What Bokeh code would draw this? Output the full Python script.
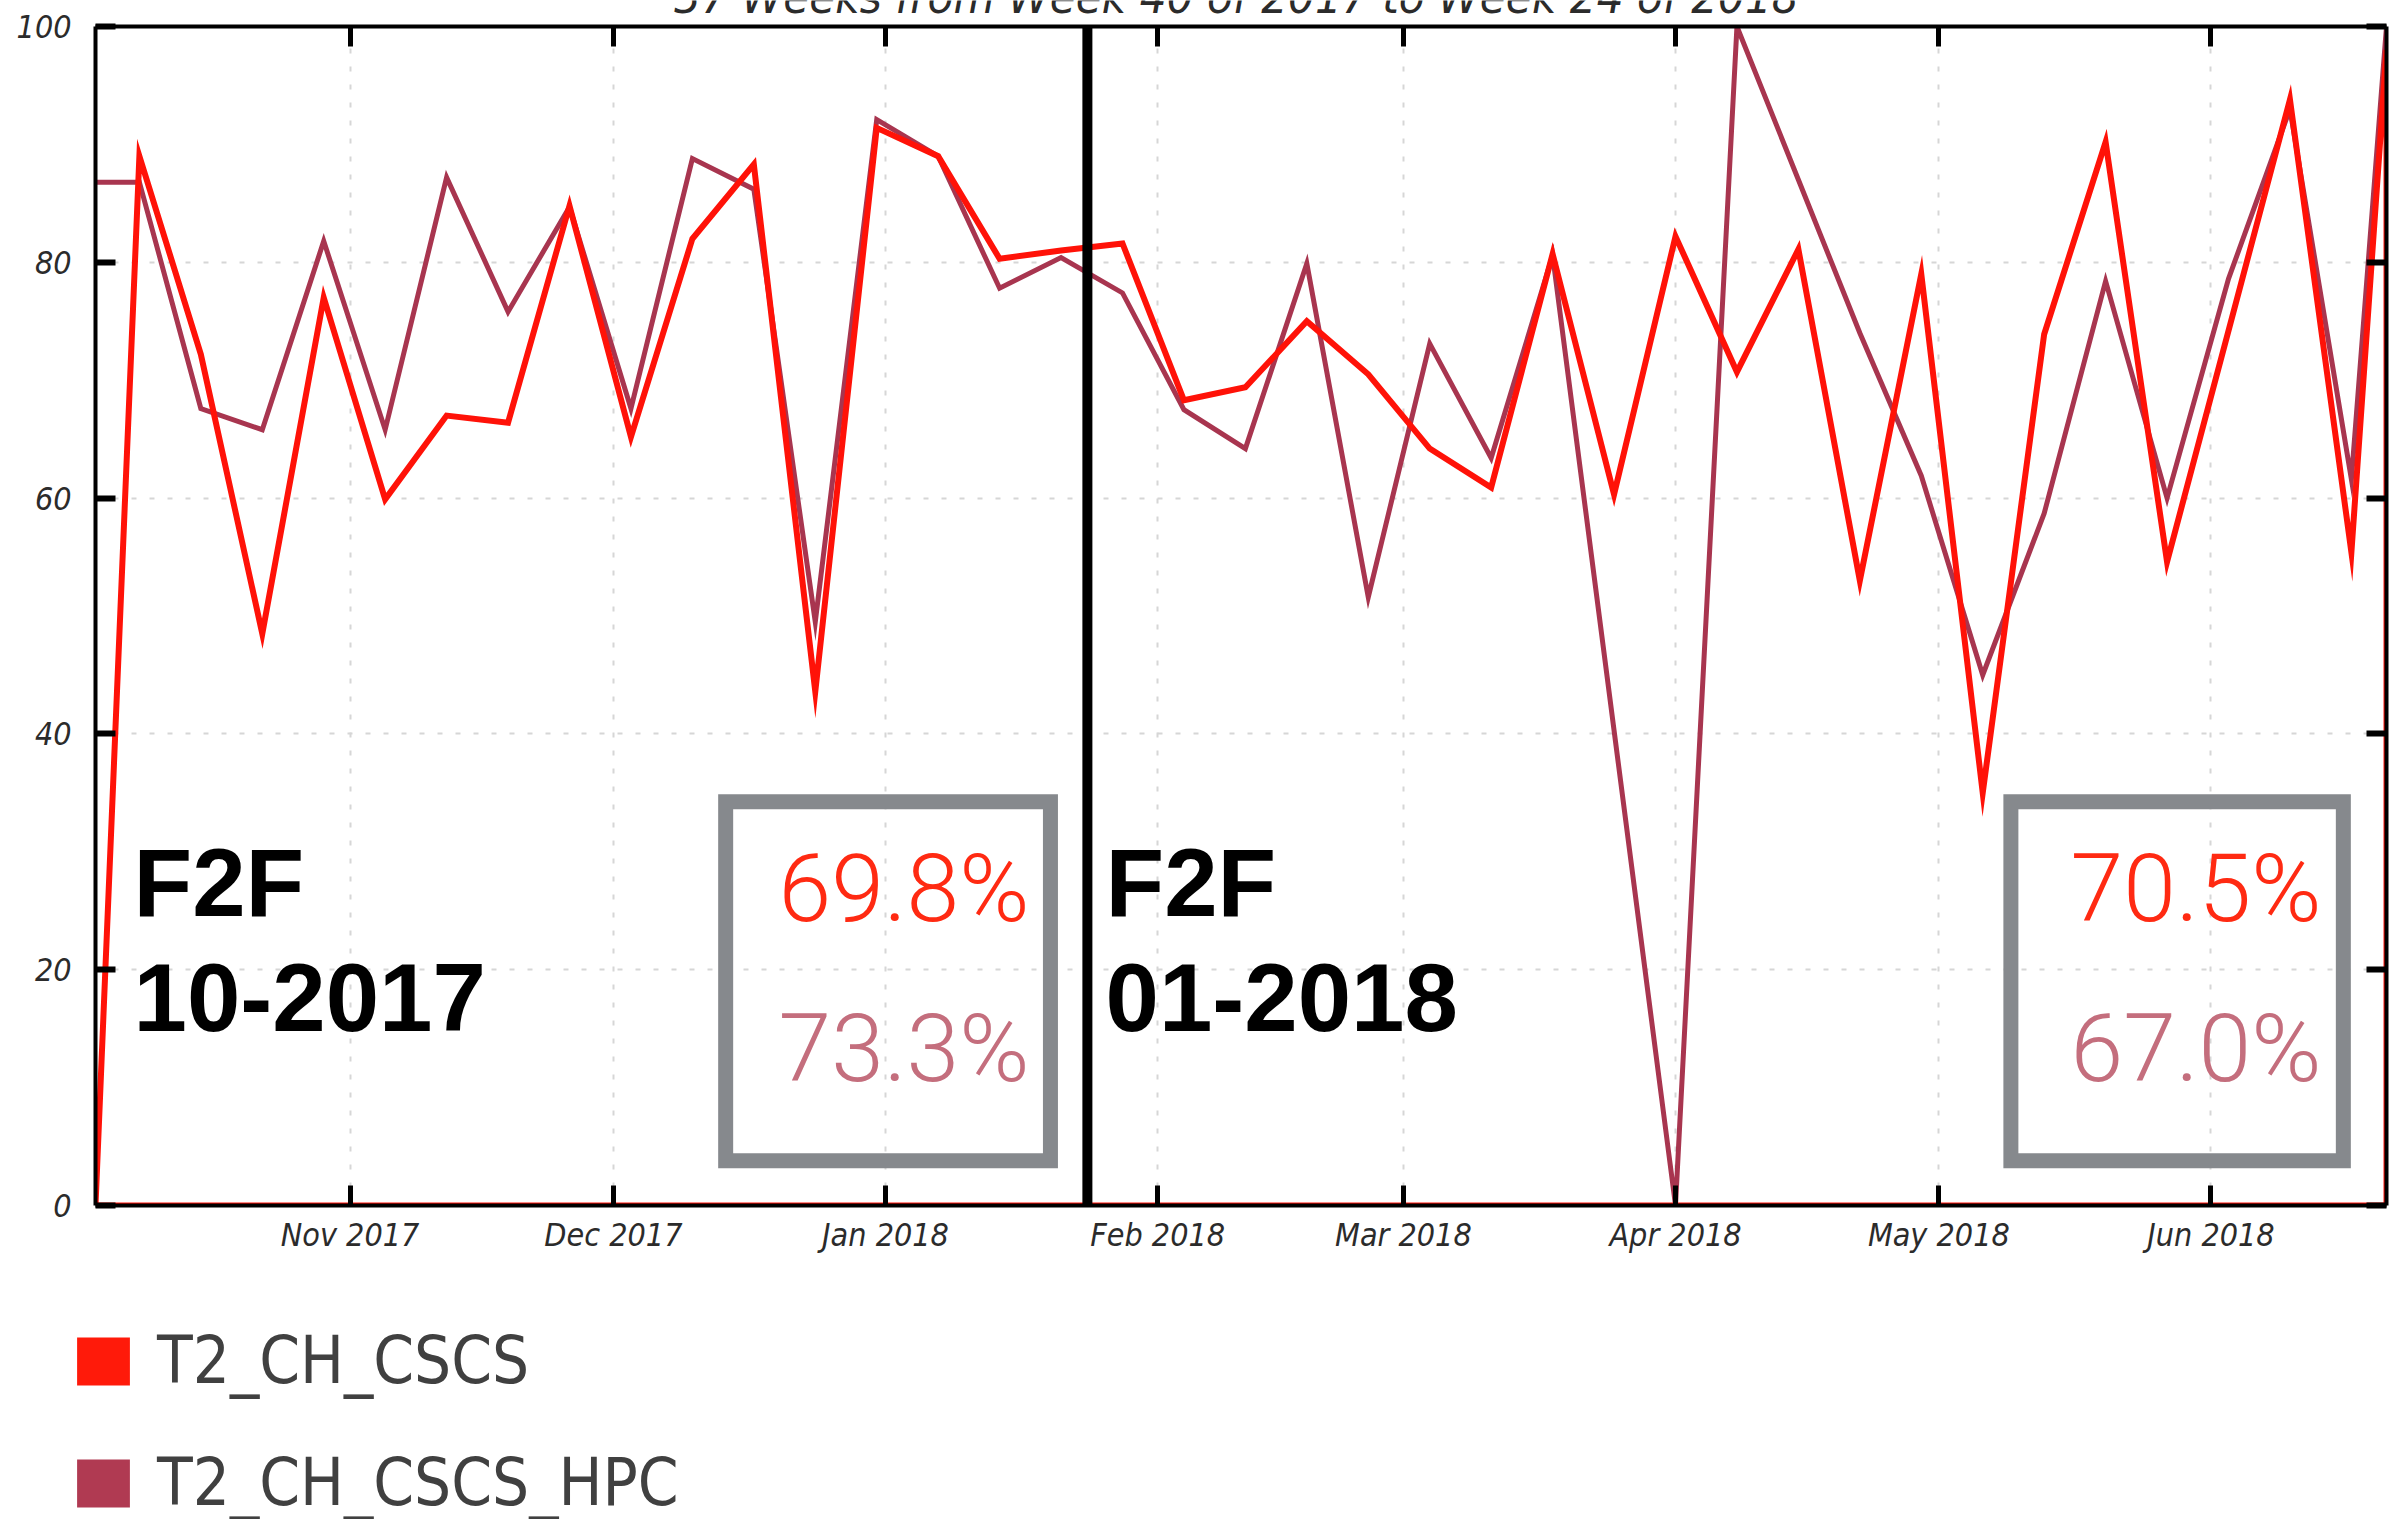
import pandas as pd
from bokeh.plotting import figure
from bokeh.layouts import column
from bokeh.models import (Range1d, LinearAxis, DatetimeAxis, FixedTicker, DatetimeTickFormatter,
                          CustomJSTickFormatter, Span, Label, BoxAnnotation, Legend, LegendItem)
from bokeh.embed import file_html
from bokeh.resources import INLINE

# ---------------- data ----------------
title_text = "37 Weeks from Week 40 of 2017 to Week 24 of 2018"
series_names = ["T2_CH_CSCS", "T2_CH_CSCS_HPC"]
weeks = list(pd.date_range("2017-10-08", periods=37, freq="7D"))
range_start = pd.Timestamp("2017-10-03")
range_end = pd.Timestamp("2018-06-21")

cscs = [89.0, 72.2, 48.5, 77.0, 59.9, 67.0, 66.4, 84.8, 65.2, 82.0, 88.3, 43.6, 91.4,
        89.0, 80.3, 81.0, 81.6, 68.3, 69.4, 75.0, 70.5, 64.2, 60.9, 80.7, 60.3, 82.2,
        70.7, 81.1, 53.0, 79.0, 35.0, 73.9, 90.2, 54.6, 74.2, 93.8, 55.4]
cscs_start, cscs_end = 0.0, 98.0
hpc = [86.8, 67.6, 65.8, 81.8, 65.8, 87.2, 75.8, 84.7, 67.6, 88.8, 86.2, 49.5, 92.1,
       89.0, 77.8, 80.4, 77.4, 67.5, 64.2, 79.9, 51.6, 73.1, 63.4, 80.6, 40.3, 0.0,
       100.0, 87.0, 74.0, 61.9, 45.0, 58.7, 78.4, 60.0, 78.6, 93.0, 61.6]
hpc_start, hpc_end = 86.8, 100.0

month_ticks = list(pd.date_range("2017-11-01", "2018-06-01", freq="MS"))
y_ticks = [0, 20, 40, 60, 80, 100]
f2f_date = pd.Timestamp("2018-01-24")
f2f_labels = [("F2F", "10-2017"), ("F2F", "01-2018")]
period_cscs = ["69.8%", "70.5%"]
period_hpc = ["73.3%", "67.0%"]

# ---------------- style ----------------
RED = "#ff1208"
HPC = "#a8354f"
RED_SW = "#ff1a0a"
HPC_SW = "#b03a52"
TXT_RED = "#ff2a12"
TXT_PINK = "#c46e7d"
BOX_GRAY = "#86898d"
AX_FONT = "DejaVu Sans Condensed, DejaVu Sans"
LIGHT_FONT = "Roboto Light, Lato Light, Roboto"
BL = 0.35  # baseline correction (fraction of font size) for screen-positioned labels
W = 2400
H_TOP = 26
H_MAIN = 1270
H_LEG = 249

ms = lambda t: pd.Timestamp(t).value / 1e6

p = figure(width=W, height=H_MAIN, x_axis_type="datetime",
           x_range=Range1d(range_start, range_end), y_range=Range1d(0, 100),
           output_backend="svg", toolbar_location=None,
           min_border_left=95, min_border_right=14, min_border_top=26, min_border_bottom=H_MAIN - 1205)
p.outline_line_color = None
p.background_fill_color = "white"
p.border_fill_color = None

month_ticker = FixedTicker(ticks=[ms(t) for t in month_ticks])
y_ticker = FixedTicker(ticks=y_ticks)

fmt = DatetimeTickFormatter(months="%b %Y", days="%b %Y", years="%b %Y", hours="%b %Y")
blank = CustomJSTickFormatter(code="return ''")


def style_axis(ax, tick_w):
    ax.axis_line_width = 4
    ax.axis_line_color = "black"
    ax.major_tick_in = 20
    ax.major_tick_out = 0
    ax.major_tick_line_width = tick_w
    ax.major_tick_line_color = "black"
    ax.minor_tick_line_color = None
    ax.major_label_text_font = AX_FONT
    ax.major_label_text_font_style = "italic"
    ax.major_label_text_font_size = "32px"
    ax.major_label_text_color = "#2b2b2b"


xa = p.xaxis[0]
xa.ticker = month_ticker
xa.formatter = fmt
style_axis(xa, 5)
xa.major_label_standoff = 10

ya = p.yaxis[0]
ya.ticker = y_ticker
style_axis(ya, 6)
ya.major_label_standoff = 24

top = DatetimeAxis(ticker=month_ticker, formatter=blank)
style_axis(top, 5)
p.add_layout(top, "above")
right = LinearAxis(ticker=y_ticker, formatter=blank)
style_axis(right, 6)
p.add_layout(right, "right")

for g, t in ((p.xgrid[0], month_ticker), (p.ygrid[0], y_ticker)):
    g.ticker = t
    g.grid_line_color = "#d6d6d6"
    g.grid_line_dash = "5 13"
    g.grid_line_width = 2

# series
hpc_x = [range_start] + weeks + [range_end]
hpc_y = [hpc_start] + hpc + [hpc_end]
p.line(hpc_x, hpc_y, line_color=HPC, line_width=5, line_join="miter")

cscs_x = [range_start] + weeks + [range_end, range_end, range_start]
cscs_y = [cscs_start] + cscs + [cscs_end, 0, 0]
p.line(cscs_x, cscs_y, line_color=RED, line_width=6, line_join="miter")

p.add_layout(Span(location=ms(f2f_date), dimension="height", line_color="black", line_width=10))

# boxes with period averages
for l, r in (("2017-12-13 19:00", "2018-01-19 19:00"), ("2018-05-09 05:00", "2018-06-16 02:00")):
    p.add_layout(BoxAnnotation(left=ms(l), right=ms(r), bottom=3.8, top=34.25,
                               fill_alpha=0, line_color=BOX_GRAY, line_width=15, line_alpha=1,
                               line_join="miter"))

PFS = 95
for xr, a, b in ((934, period_cscs[0], period_hpc[0]), (2226, period_cscs[1], period_hpc[1])):
    for yy, tx, col in ((283.5, a, TXT_RED), (124, b, TXT_PINK)):
        p.add_layout(Label(x=xr, y=yy + BL * PFS, x_units="screen", y_units="screen", text=tx,
                           text_align="right", text_baseline="alphabetic", text_font=LIGHT_FONT,
                           text_font_size=f"{PFS}px", text_color=col))

FFS = 96
for xl, (l1, l2) in zip((38, 1010), f2f_labels):
    for yy, tx in ((289, l1), (174, l2)):
        p.add_layout(Label(x=xl, y=yy + BL * FFS, x_units="screen", y_units="screen", text=tx,
                           text_align="left", text_baseline="alphabetic",
                           text_font="Liberation Sans", text_font_style="bold",
                           text_font_size=f"{FFS}px", text_color="black"))

can_unalign = "frame_align" in figure.properties()

# title strip: the title sits mostly above the page top, only its lower part shows
t = figure(width=W, height=H_TOP, x_range=Range1d(0, 1), y_range=Range1d(0, 1),
           output_backend="svg", toolbar_location=None, x_axis_location=None, y_axis_location=None,
           min_border=0, margin=(0, 0, -H_TOP, 0))
t.outline_line_color = None
t.grid.visible = False
if can_unalign:
    t.frame_align = False
TFS = 47
t.add_layout(Label(x=1236 if can_unalign else 1141, y=14 + BL * TFS, x_units="screen", y_units="screen",
                   text=title_text, text_align="center", text_baseline="alphabetic", text_font=AX_FONT,
                   text_font_style="italic", text_font_size=f"{TFS}px", text_color="#2b2b2b"))

# legend in its own strip below the chart (hidden bars of the same data give square swatches)
q = figure(width=W, height=H_LEG, x_range=Range1d(range_start, range_end), y_range=Range1d(0, 100),
           output_backend="svg", toolbar_location=None, x_axis_location=None, y_axis_location=None,
           min_border=0)
q.outline_line_color = None
q.grid.visible = False
if can_unalign:
    q.frame_align = False
r1 = q.vbar(x=weeks, top=cscs, width=1, fill_color=RED_SW, line_color=None, visible=False)
r2 = q.vbar(x=weeks, top=hpc, width=1, fill_color=HPC_SW, line_color=None, visible=False)
legend = Legend(items=[LegendItem(label=series_names[0], renderers=[r1]),
                       LegendItem(label=series_names[1], renderers=[r2])],
                location=(70 if can_unalign else -28, -1), orientation="vertical",
                glyph_width=66, glyph_height=60,
                label_text_font=AX_FONT, label_text_font_size="65px", label_text_color="#404040",
                label_standoff=21, spacing=47, padding=0, margin=0,
                inactive_fill_alpha=0,
                border_line_color=None, background_fill_alpha=0)
q.add_layout(legend)

open("out.html", "w").write(file_html(column(t, p, q, spacing=0), INLINE))
